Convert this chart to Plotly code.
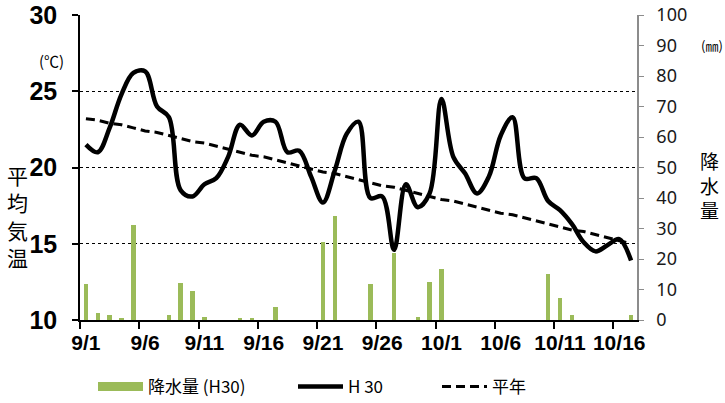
import plotly.graph_objects as go

# ---------------- data ----------------
dates = ["9/1", "9/2", "9/3", "9/4", "9/5", "9/6", "9/7", "9/8", "9/9", "9/10",
         "9/11", "9/12", "9/13", "9/14", "9/15", "9/16", "9/17", "9/18", "9/19", "9/20",
         "9/21", "9/22", "9/23", "9/24", "9/25", "9/26", "9/27", "9/28", "9/29", "9/30",
         "10/1", "10/2", "10/3", "10/4", "10/5", "10/6", "10/7", "10/8", "10/9", "10/10",
         "10/11", "10/12", "10/13", "10/14", "10/15", "10/16", "10/17"]

temp_h30 = [21.5, 21.0, 22.6, 24.8, 26.2, 26.3, 24.0, 23.3, 18.5, 18.1,
            18.9, 19.3, 20.7, 22.8, 22.1, 23.0, 23.0, 21.0, 21.1, 19.4,
            17.7, 19.8, 22.2, 23.0, 18.0, 18.1, 14.6, 18.9, 17.4, 18.3,
            24.5, 20.7, 19.6, 18.3, 19.4, 22.1, 23.3, 19.3, 19.3, 17.8,
            17.2, 16.3, 15.1, 14.5, 14.9, 15.3, 13.9]

temp_normal = [23.2, 23.1, 22.9, 22.8, 22.6, 22.4, 22.3, 22.1, 21.9, 21.7,
               21.6, 21.4, 21.2, 21.0, 20.8, 20.7, 20.5, 20.3, 20.1, 19.9,
               19.7, 19.6, 19.4, 19.2, 19.0, 18.8, 18.7, 18.5, 18.3, 18.1,
               17.9, 17.8, 17.6, 17.4, 17.2, 17.0, 16.9, 16.7, 16.5, 16.3,
               16.1, 15.9, 15.8, 15.6, 15.4, 15.2, 15.0]

precip_h30 = [11.7, 2.3, 1.7, 0.6, 31.0, 0, 0, 1.7, 12.2, 9.5,
              1.1, 0, 0, 0.6, 0.6, 0, 4.3, 0, 0, 0,
              25.5, 34.0, 0, 0, 11.7, 0, 22.0, 0, 1.1, 12.6,
              16.6, 0, 0, 0, 0, 0, 0, 0, 0, 15.2,
              7.2, 1.6, 0, 0, 0, 0, 1.6]

tick_labels = ["9/1", "9/6", "9/11", "9/16", "9/21", "9/26", "10/1", "10/6", "10/11", "10/16"]
temp_ticks = [10, 15, 20, 25, 30]
precip_ticks = [0, 10, 20, 30, 40, 50, 60, 70, 80, 90, 100]

left_title = "平<br>均<br>気<br>温"
right_title = "降<br>水<br>量"

# ---------------- styling ----------------
GREEN = "#9BBB59"
NARROW = "Liberation Sans Narrow, Arial Narrow, Liberation Sans, Arial, sans-serif"
JP = "Noto Sans CJK JP, Noto Sans, sans-serif"

# plot-area geometry in pixels (for placing legend / side texts)
L, R, T, B = 80, 637, 15, 320
W, H = R - L, B - T


def px_x(px):
    return (px - L) / W


def px_y(py):
    return (B - py) / H


x = list(range(len(dates)))
tickvals = [dates.index(t) for t in tick_labels]
boundary_ticks = [v - 0.5 for v in tickvals]

fig = go.Figure()

# precipitation bars on the base (right-side) axis
fig.add_trace(go.Bar(
    x=x, y=precip_h30, yaxis="y", width=0.38,
    marker=dict(color=GREEN, line=dict(width=0)),
    showlegend=False, name="降水量 (H30)",
))
# legend stand-in for bars (wide green swatch)
fig.add_trace(go.Scatter(
    x=[None], y=[None], yaxis="y", mode="lines",
    line=dict(color=GREEN, width=9), name="降水量 (H30)", legend="legend",
))
# temperature lines on the overlaying (left-side) axis
fig.add_trace(go.Scatter(
    x=x, y=temp_h30, yaxis="y2", mode="lines", name="H 30",
    line=dict(color="black", width=4.5, shape="spline", smoothing=1.0),
    legend="legend2",
))
fig.add_trace(go.Scatter(
    x=x, y=temp_normal, yaxis="y2", mode="lines", name="平年",
    line=dict(color="black", width=3, dash="9px,5px"),
    legend="legend3",
))

legend_common = dict(
    orientation="h", xref="paper", yref="paper",
    yanchor="middle", y=px_y(387), xanchor="left",
    font=dict(family=JP, size=17, color="black"),
    bgcolor="rgba(0,0,0,0)", itemwidth=45, tracegroupgap=0,
)

annotations = [
    dict(text="(℃)", xref="paper", yref="paper",
         x=px_x(51), y=px_y(60), xanchor="center", yanchor="middle",
         showarrow=False, font=dict(family=JP, size=15, color="black")),
    dict(text="(㎜)", xref="paper", yref="paper",
         x=px_x(712), y=px_y(45), xanchor="center", yanchor="middle",
         showarrow=False, font=dict(family=JP, size=13, color="black")),
    dict(text=left_title, xref="paper", yref="paper",
         x=px_x(17), y=px_y(216), xanchor="center", yanchor="middle",
         showarrow=False, font=dict(family=JP, size=21, color="black")),
    dict(text=right_title, xref="paper", yref="paper",
         x=px_x(709), y=px_y(185), xanchor="center", yanchor="middle",
         showarrow=False, font=dict(family=JP, size=19, color="black")),
]

fig.update_layout(
    width=725, height=403,
    margin=dict(l=L, r=725 - R, t=T, b=403 - B, autoexpand=False),
    paper_bgcolor="white", plot_bgcolor="white",
    bargap=0,
    xaxis=dict(
        range=[-0.5, len(dates) - 0.5],
        tickvals=tickvals, ticktext=tick_labels,
        ticks="", showgrid=False,
        showline=True, linecolor="black", linewidth=1.5,
        tickfont=dict(family=NARROW, size=21, color="black", weight="bold"),
        ticklabelstandoff=3,
        minor=dict(tickvals=boundary_ticks, ticks="outside", ticklen=7,
                   tickcolor="black", tickwidth=1.5, showgrid=False),
        zeroline=False, automargin=False,
    ),
    yaxis=dict(
        range=[0, 100], side="right",
        tickvals=precip_ticks,
        ticks="outside", ticklen=5, tickcolor="#8c8c8c", tickwidth=1,
        showline=True, linecolor="#8c8c8c", linewidth=1.5,
        showgrid=False, zeroline=False, automargin=False,
        tickfont=dict(family="Noto Sans, sans-serif", size=18, color="#1a1a1a"),
        ticklabelstandoff=9,
    ),
    yaxis2=dict(
        range=[10, 30], side="left", overlaying="y",
        tickvals=temp_ticks,
        ticks="outside", ticklen=6, tickcolor="black", tickwidth=1.5,
        showline=True, linecolor="black", linewidth=1.5,
        showgrid=True, gridcolor="black", gridwidth=1, griddash="dot",
        zeroline=False, automargin=False,
        tickfont=dict(family=NARROW, size=25, color="black", weight="bold"),
        ticklabelstandoff=10,
    ),
    legend=dict(legend_common, x=px_x(93)),
    legend2=dict(legend_common, x=px_x(293)),
    legend3=dict(legend_common, x=px_x(437)),
    annotations=annotations,
)

# remove the browser's default 8px page margin so the 725x403 figure fills the window
fig.write_html("out.html", config={"displayModeBar": False},
               post_script="document.body.style.margin='0';")
